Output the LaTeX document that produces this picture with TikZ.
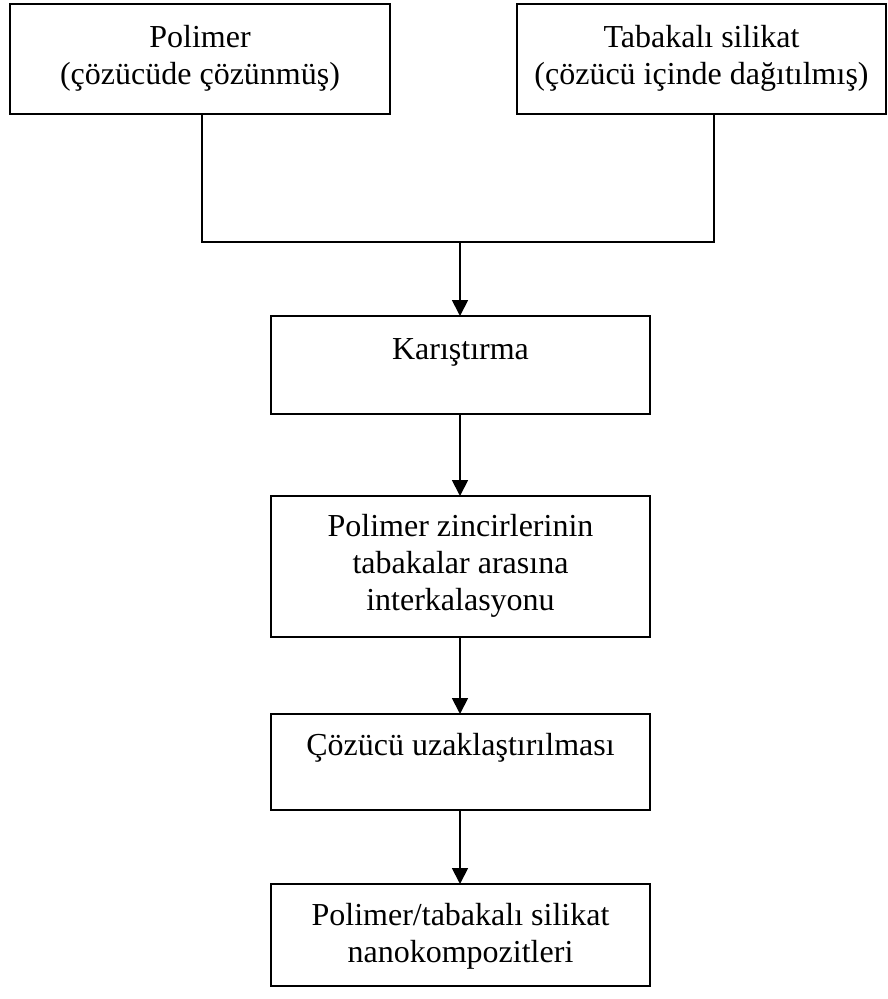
\documentclass[tikz,border=0pt]{standalone}
\usepackage{fontspec}
\setmainfont{Liberation Serif}
\usetikzlibrary{arrows.meta}
\tikzset{
  box/.style={draw=black, line width=1.8pt, rectangle, inner sep=0pt, outer sep=0pt},
  txt/.style={inner sep=0pt, outer sep=0pt, anchor=base, font=\fontsize{32}{36}\selectfont},
  conn/.style={draw=black, line width=1.8pt},
  arr/.style={conn, -{Triangle[width=16pt,length=16pt]}}
}
\begin{document}
\begin{tikzpicture}[x=1pt,y=-1pt]
\useasboundingbox (0,0) rectangle (887,999);
% boxes
\node[box, minimum width=380pt, minimum height=110pt] (b1) at (200,59) {};
\node[box, minimum width=369pt, minimum height=110pt] (b2) at (701.5,59) {};
\node[box, minimum width=379pt, minimum height=98pt] (b3) at (460.5,365) {};
\node[box, minimum width=379pt, minimum height=141pt] (b4) at (460.5,566.5) {};
\node[box, minimum width=379pt, minimum height=96pt] (b5) at (460.5,762) {};
\node[box, minimum width=379pt, minimum height=102pt] (b6) at (460.5,935) {};
% texts
\node[txt] (t1a) at (200,47) {Polimer};
\node[txt] (t1b) at (200,84) {(çözücüde çözünmüş)};
\node[txt] (t2a) at (701.5,47) {Tabakalı silikat};
\node[txt] (t2b) at (701.5,84) {(çözücü içinde dağıtılmış)};
\node[txt] (t3a) at (460.5,359) {Karıştırma};
\node[txt] (t4a) at (460.5,536) {Polimer zincirlerinin};
\node[txt] (t4b) at (460.5,573) {tabakalar arasına};
\node[txt] (t4c) at (460.5,610) {interkalasyonu};
\node[txt] (t5a) at (460.5,755) {Çözücü uzaklaştırılması};
\node[txt] (t6a) at (460.5,925) {Polimer/tabakalı silikat};
\node[txt] (t6b) at (460.5,962) {nanokompozitleri};
% connectors
\coordinate (j1) at (202,242);
\coordinate (j2) at (714,242);
\coordinate (jm) at (460,242);
\draw[conn, line join=miter] (b1.south -| j1) -- (j1) -- (j2) -- (b2.south -| j2);
\draw[arr] (jm) -- (jm |- b3.north);
\draw[arr] (b3.south -| jm) -- (jm |- b4.north);
\draw[arr] (b4.south -| jm) -- (jm |- b5.north);
\draw[arr] (b5.south -| jm) -- (jm |- b6.north);
\end{tikzpicture}
\end{document}
